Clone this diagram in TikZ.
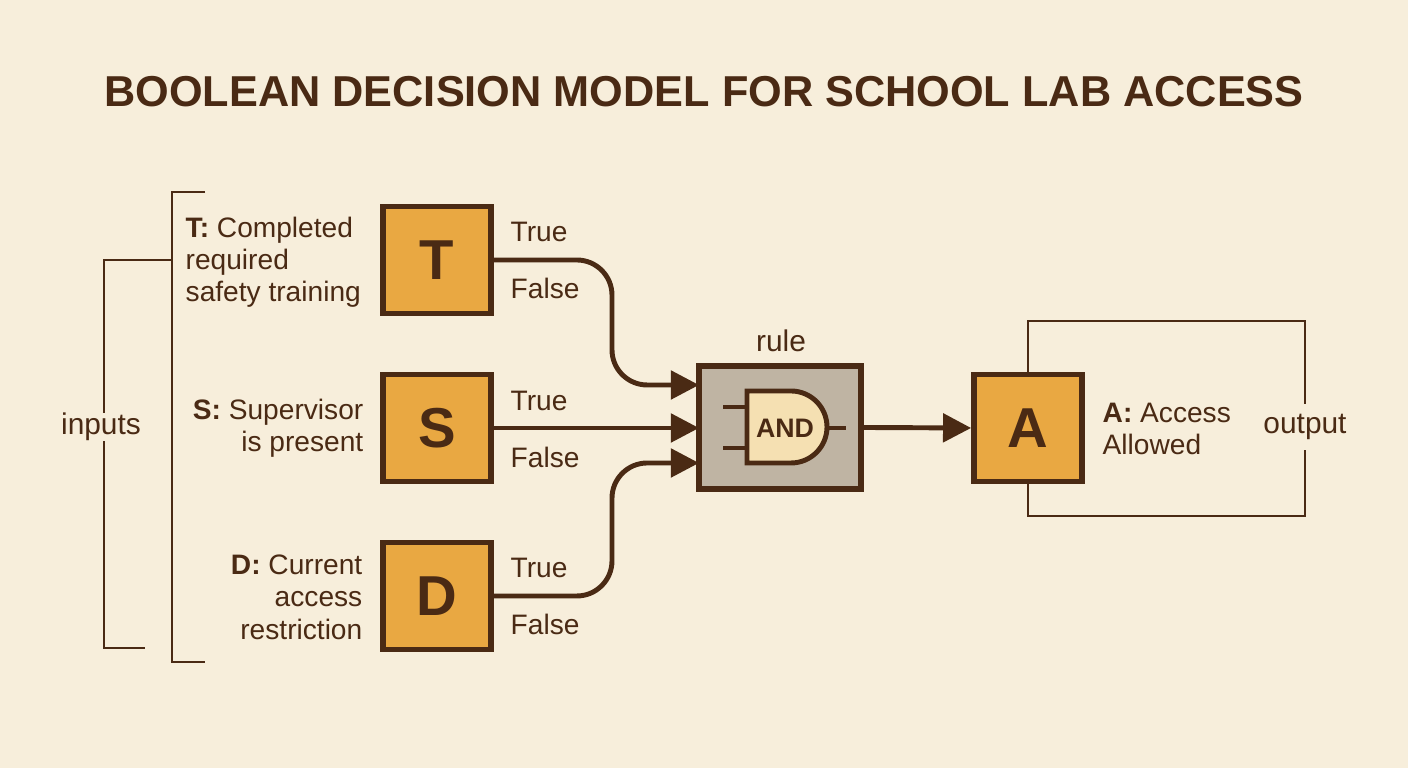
\documentclass[tikz,border=0pt]{standalone}
\usepackage{fontspec}
\setmainfont{Liberation Sans}
\usetikzlibrary{arrows.meta}
\definecolor{bg}{HTML}{F7EEDB}
\definecolor{dk}{HTML}{4A2A14}
\definecolor{org}{HTML}{E9A842}
\definecolor{gry}{HTML}{BFB4A3}
\definecolor{lt}{HTML}{F5E0B2}
\begin{document}
\begin{tikzpicture}[x=0.01cm,y=-0.01cm,
  box/.style={draw=dk,line width=1.6pt,fill=org,minimum width=1.08cm,minimum height=1.07cm,font=\fontsize{16}{16}\selectfont\bfseries,text=dk},
  lbl/.style={font=\fontsize{8}{9.2}\selectfont,text=dk,inner sep=0pt},
  ln/.style={draw=dk,line width=0.6pt},
  arr/.style={draw=dk,line width=1.4pt,rounded corners=10pt,-{Triangle[length=8pt,width=8pt]}}]
\fill[bg] (0,0) rectangle (1408,768);
\node[font=\fontsize{12.3}{14}\selectfont\bfseries,text=dk] (title) at (704,92) {BOOLEAN DECISION MODEL FOR SCHOOL LAB ACCESS};
% brackets
\draw[ln] (205,192) -- (172,192) -- (172,662) -- (205,662);
\draw[ln] (172,260) -- (104,260) -- (104,648) -- (145,648);
\draw[ln] (104,427) -- (145,427);
\node[lbl,fill=bg,inner xsep=2pt,font=\fontsize{8.5}{9}\selectfont] (inp) at (101,427) {inputs};
% output frame
\draw[ln] (1028,375) -- (1028,321) -- (1305,321) -- (1305,516) -- (1028,516) -- (1028,482);
\node[lbl,fill=bg,inner sep=3pt,font=\fontsize{8.5}{9}\selectfont] (out) at (1305,427) {output};
% boxes
\node[box] (T) at (437,260) {T};
\node[box] (S) at (437,428) {S};
\node[box] (D) at (437,596) {D};
\node[box] (A) at (1028,428) {A};
% descriptions
\node[lbl,anchor=north west,align=left] (tl) at (185,216) {\textbf{T:} Completed\\required\\safety training};
\node[lbl,anchor=east,align=right] (sl) at (364,428) {\textbf{S:} Supervisor\\is present};
\node[lbl,anchor=east,align=right] (dl) at (363,597) {\textbf{D:} Current\\access\\restriction};
\node[lbl,anchor=west,align=left] (al) at (1102,429) {\textbf{A:} Access\\Allowed};
% true/false
\foreach \n/\y in {t/232,s/401,d/568}{\node[lbl,anchor=west] (\n T) at (510,\y) {True};}
\foreach \n/\y in {t/288,s/457,d/624}{\node[lbl,anchor=west] (\n F) at (510,\y) {False};}
% rule box
\node[draw=dk,line width=1.6pt,fill=gry,minimum width=1.62cm,minimum height=1.23cm] (R) at (780,427.5) {};
\node[lbl,font=\fontsize{8.5}{9}\selectfont] (rl) at (781,341) {rule};
\coordinate (g1) at (723,407);
\coordinate (g2) at (723,448);
\coordinate (go) at (846,428);
\draw[draw=dk,line width=1.3pt] (g1) -- (747,407) (g2) -- (747,448) (826,428) -- (go);
\draw[draw=dk,line width=1.4pt,fill=lt] (747,391) -- (791,391) arc[start angle=90,end angle=-90,x radius=36,y radius=-36] -- (747,463) -- cycle;
\node[lbl,font=\fontsize{7.6}{8}\selectfont\bfseries] (and) at (785,428) {AND};
% arrows
\coordinate (ri1) at (699,385);
\coordinate (ri2) at (699,428);
\coordinate (ri3) at (699,463);
\draw[arr] (T.east) -- (612,260) -- (612,385) -- (ri1);
\draw[arr] (S.east) -- (ri2);
\draw[arr] (D.east) -- (612,596) -- (612,463) -- (ri3);
\draw[arr] (R.east) -- (A.west);
\end{tikzpicture}
\end{document}
